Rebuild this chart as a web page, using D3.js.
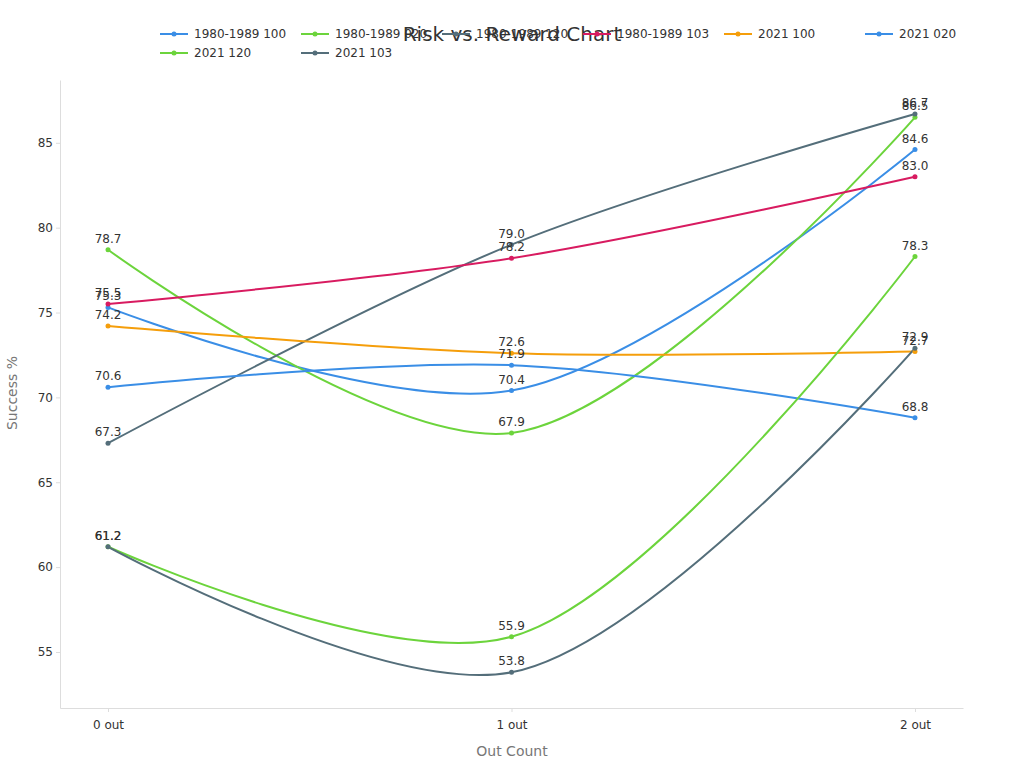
<!DOCTYPE html>
<html><head><meta charset="utf-8">
<script src="https://cdn.jsdelivr.net/npm/d3@7"></script>
<style>body{margin:0;background:#fff;font-family:"DejaVu Sans",sans-serif}</style>
</head><body><svg id="c" width="1024" height="768"></svg>
<script>
const categories = ["0 out","1 out","2 out"];
const seriesNames = ["1980-1989 100","1980-1989 020","1980-1989 120","1980-1989 103","2021 100","2021 020","2021 120","2021 103"];
const seriesColors = ["#3a8ee6","#6cd43c","#546e7a","#d81b60","#f59e0b","#3a8ee6","#6cd43c","#546e7a"];
const s1980_100 = [75.3,70.4,84.6];
const s1980_020 = [78.7,67.9,86.5];
const s1980_120 = [67.3,79.0,86.7];
const s1980_103 = [75.5,78.2,83.0];
const s2021_100 = [74.2,72.6,72.7];
const s2021_020 = [70.6,71.9,68.8];
const s2021_120 = [61.2,55.9,78.3];
const s2021_103 = [61.2,53.8,72.9];
const yTicks = [55,60,65,70,75,80,85];
const allSeries = [s1980_100,s1980_020,s1980_120,s1980_103,s2021_100,s2021_020,s2021_120,s2021_103];

const svg = d3.select("#c");
const L=60,R=963,T=80,B=708;
const x = d3.scalePoint().domain(categories).range([L,R]).padding(0.119);
const y = d3.scaleLinear().domain([51.7,88.7]).range([B,T]);

const gx = svg.append("g").attr("transform",`translate(0,${B})`).call(d3.axisBottom(x).tickSize(4).tickSizeOuter(0));
const gy = svg.append("g").attr("transform",`translate(${L},0)`).call(d3.axisLeft(y).tickValues(yTicks).tickSize(4).tickSizeOuter(0));
[gx,gy].forEach(g=>{g.selectAll("path,line").attr("stroke","#ddd");g.selectAll("text").attr("fill","#333").style("font-size","12px").style("font-family","DejaVu Sans");});
gx.selectAll("text").attr("dy","1.2em");

svg.append("text").attr("x",512).attr("y",756).attr("text-anchor","middle").attr("fill","#777").style("font-size","14px").text("Out Count");
svg.append("text").attr("transform","translate(17,393) rotate(-90)").attr("text-anchor","middle").attr("fill","#777").style("font-size","14px").text("Success %");

const line = d3.line().x((d,i)=>x(categories[i])).y(d=>y(d)).curve(d3.curveCatmullRom.alpha(0.5));
allSeries.forEach((s,k)=>{
  svg.append("path").attr("d",line(s)).attr("fill","none").attr("stroke",seriesColors[k]).attr("stroke-width",2);
});
allSeries.forEach((s,k)=>{
  s.forEach((v,i)=>{
    svg.append("circle").attr("cx",x(categories[i])).attr("cy",y(v)).attr("r",2.5).attr("fill",seriesColors[k]);
    svg.append("text").attr("x",x(categories[i])).attr("y",y(v)-7).attr("text-anchor","middle").attr("fill","#333").style("font-size","12px").text(v.toFixed(1));
  });
});

svg.append("text").attr("x",512).attr("y",41).attr("text-anchor","middle").attr("fill","#333").style("font-size","20px").text("Risk vs. Reward Chart");

seriesNames.forEach((n,k)=>{
  const col=k%6,row=Math.floor(k/6);
  const lx=160+col*141, ly=34+row*19;
  const g=svg.append("g");
  g.append("line").attr("x1",lx).attr("x2",lx+28).attr("y1",ly).attr("y2",ly).attr("stroke",seriesColors[k]).attr("stroke-width",2);
  g.append("circle").attr("cx",lx+14).attr("cy",ly).attr("r",2.5).attr("fill",seriesColors[k]);
  g.append("text").attr("x",lx+34).attr("y",ly+4).attr("fill","#333").style("font-size","12px").text(n);
});
</script></body></html>
